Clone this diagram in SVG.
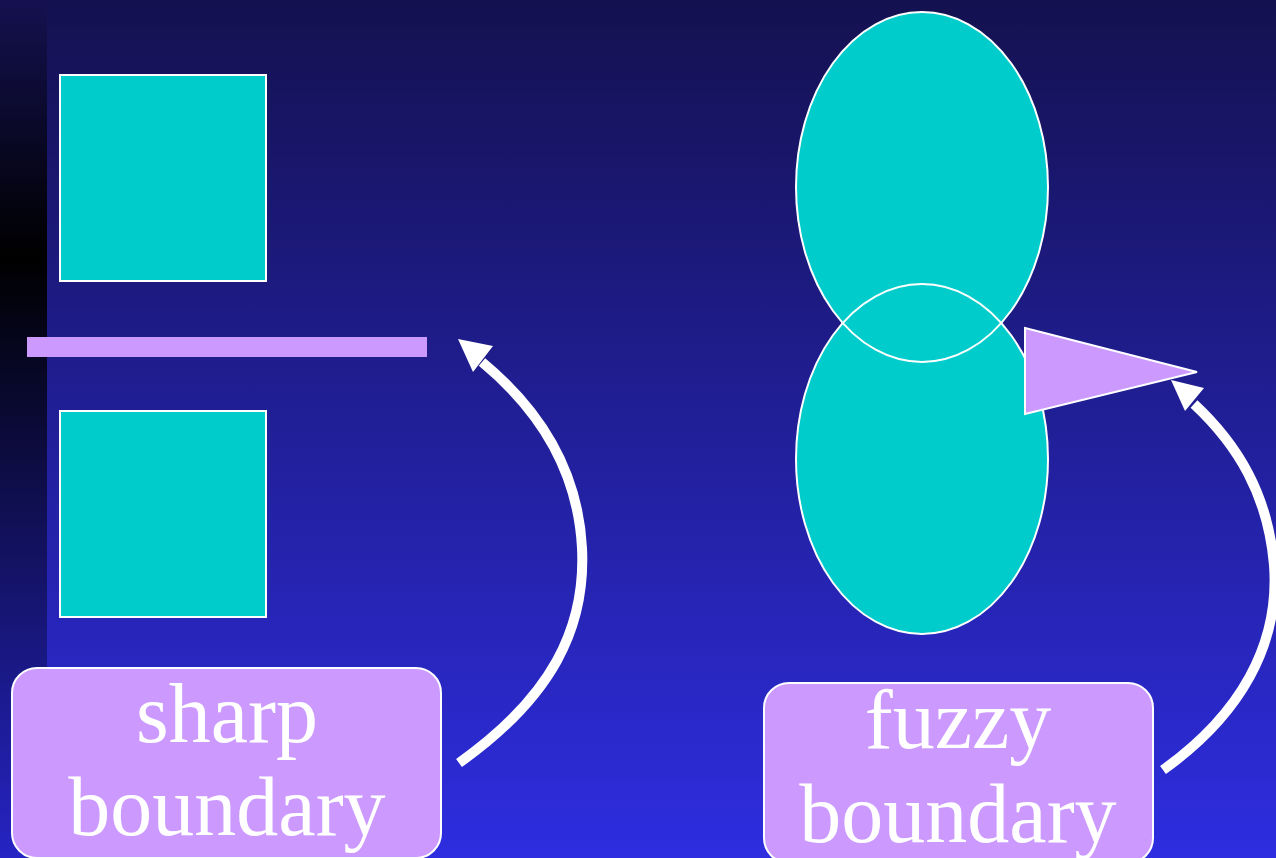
<svg xmlns="http://www.w3.org/2000/svg" width="1276" height="858" viewBox="0 0 1276 858">
<defs>
<linearGradient id="bg" x1="0" y1="0" x2="0" y2="1">
<stop offset="0" stop-color="#141150"/>
<stop offset="1" stop-color="#2e2de0"/>
</linearGradient>
<linearGradient id="strip" x1="0" y1="0" x2="0" y2="1">
<stop offset="0" stop-color="#141150"/>
<stop offset="0.3" stop-color="#000000"/>
<stop offset="1" stop-color="#2624c4"/>
</linearGradient>
<style>
.sq{fill:#00cccc;stroke:#ffffff;stroke-width:2}
.ell{fill:#00cccc}
.ello{fill:none;stroke:#ffffff;stroke-width:2}
.lbl{fill:#cc99ff;stroke:#ffffff;stroke-width:2}
.txt{font-family:"Liberation Serif","Times New Roman",serif;font-size:84px;fill:#ffffff;text-anchor:middle}
.arc{fill:none;stroke:#ffffff;stroke-width:10}
.head{fill:#ffffff}
</style>
</defs>
<rect x="0" y="0" width="1276" height="858" fill="url(#bg)"/>
<rect x="0" y="0" width="47" height="858" fill="url(#strip)"/>

<g id="square-top"><rect class="sq" x="60" y="75" width="206" height="206"/></g>
<g id="square-bottom"><rect class="sq" x="60" y="411" width="206" height="206"/></g>
<g id="sharp-line"><rect x="27" y="337" width="400" height="20" fill="#cc99ff"/></g>

<g id="ellipses">
<ellipse class="ell" cx="922" cy="187" rx="126" ry="175"/>
<ellipse class="ell" cx="922" cy="459" rx="126" ry="175"/>
<ellipse class="ello" cx="922" cy="187" rx="126" ry="175"/>
<ellipse class="ello" cx="922" cy="459" rx="126" ry="175"/>
</g>
<g id="fuzzy-triangle"><polygon points="1025,328 1197,372 1025,414" fill="#cc99ff" stroke="#ffffff" stroke-width="2"/></g>

<g id="label-sharp">
<rect class="lbl" x="12" y="668" width="429" height="190" rx="25"/>
<text class="txt" x="227" y="742">sharp</text>
<text class="txt" x="227" y="835">boundary</text>
</g>
<g id="label-fuzzy">
<rect class="lbl" x="764" y="683" width="389" height="180" rx="25"/>
<text class="txt" x="958" y="748">fuzzy</text>
<text class="txt" x="958" y="842">boundary</text>
</g>

<g id="connectors">
<path class="arc" d="M459,763 C552,697 586,628 582,548 C578,470 540,410 482,362"/>
<polygon class="head" points="458,339 473,372 493,346"/>
<path class="arc" d="M1163,770 C1240,715 1280,645 1274,565 C1268,495 1238,445 1194,404"/>
<polygon class="head" points="1171,380 1185,411 1204,388"/>
</g>
</svg>
